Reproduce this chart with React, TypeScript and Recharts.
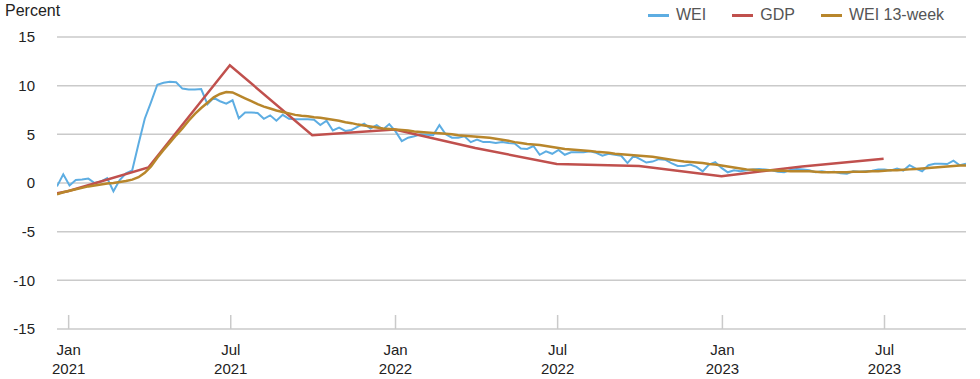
import React from "react";
import { LineChart, Line, XAxis, YAxis, CartesianGrid } from "recharts";

const DAY = 86400000;
const weekStart = Date.UTC(2020, 11, 19);

// weekly WEI readings, Dec 19 2020 -> Sep 30 2023
const weiValues = [
  -0.35, 0.9, -0.25, 0.3, 0.35, 0.45, 0.0, 0.15, 0.5, -0.85,
  0.3, 1.0, 1.3, 4.0, 6.6, 8.3, 10.1, 10.3, 10.4, 10.35,
  9.7, 9.6, 9.6, 9.65, 8.1, 8.75, 8.4, 8.15, 8.5, 6.65,
  7.25, 7.25, 7.2, 6.6, 6.95, 6.4, 7.0, 6.6, 6.55, 6.55,
  6.55, 6.5, 5.95, 6.4, 5.4, 5.7, 5.35, 5.45, 5.8, 6.1,
  5.6, 5.95, 5.5, 6.05, 5.3, 4.3, 4.65, 4.8, 5.0, 4.95,
  4.9, 5.95, 5.0, 4.65, 4.65, 4.8, 4.2, 4.45, 4.2, 4.2,
  4.1, 4.2, 4.1, 4.05, 3.55, 3.5, 3.8, 2.9, 3.25, 3.0,
  3.4, 2.9, 3.15, 3.15, 3.15, 3.25, 3.1, 2.8, 3.0, 2.9,
  2.8, 2.05, 2.8, 2.45, 2.1, 2.2, 2.45, 2.4, 2.05, 1.75,
  1.75, 1.9, 1.65, 1.2, 1.9, 2.15, 1.55, 1.1, 1.3, 1.2,
  1.3, 1.38, 1.45, 1.38, 1.3, 1.15, 1.1, 1.35, 1.45, 1.4,
  1.3, 1.1, 1.2, 1.1, 1.15, 1.0, 0.95, 1.2, 1.15, 1.2,
  1.25, 1.38, 1.38, 1.28, 1.48, 1.28, 1.83, 1.48, 1.2, 1.83,
  1.97, 1.97, 1.95, 2.3, 1.83, 1.97,
];

const wei13Values = [
  -1.15, -0.95, -0.8, -0.65, -0.5, -0.35, -0.25, -0.15, -0.05, 0.0,
  0.1, 0.2, 0.35, 0.6, 1.05, 1.7, 2.6, 3.4, 4.15, 4.9,
  5.6, 6.4, 7.1, 7.7, 8.25, 8.8, 9.15, 9.35, 9.3, 9.0,
  8.7, 8.4, 8.1, 7.85, 7.65, 7.45, 7.3, 7.15, 7.0, 6.9,
  6.85, 6.75, 6.7, 6.6, 6.5, 6.4, 6.25, 6.15, 6.0, 5.9,
  5.8, 5.7, 5.6, 5.55, 5.5, 5.45, 5.4, 5.3, 5.25, 5.2,
  5.15, 5.1, 5.05, 5.0, 4.9, 4.85, 4.8, 4.75, 4.7, 4.65,
  4.55, 4.45, 4.35, 4.2, 4.1, 4.0, 3.95, 3.9, 3.8, 3.7,
  3.6, 3.5, 3.45, 3.4, 3.35, 3.3, 3.2, 3.15, 3.1, 3.0,
  2.95, 2.9, 2.85, 2.8, 2.75, 2.7, 2.6, 2.5, 2.4, 2.3,
  2.2, 2.15, 2.1, 2.05, 1.95, 1.9, 1.8, 1.7, 1.6, 1.5,
  1.4, 1.35, 1.3, 1.3, 1.3, 1.25, 1.25, 1.2, 1.2, 1.2,
  1.2, 1.15, 1.1, 1.1, 1.1, 1.1, 1.1, 1.15, 1.15, 1.15,
  1.2, 1.2, 1.25, 1.3, 1.3, 1.35, 1.4, 1.45, 1.5, 1.55,
  1.6, 1.65, 1.7, 1.75, 1.8, 1.8,
];

// quarterly GDP, year over year
const gdpDates = [
  "2020-09-30", "2020-12-31", "2021-03-31", "2021-06-30", "2021-09-30", "2021-12-31",
  "2022-03-31", "2022-06-30", "2022-09-30", "2022-12-31", "2023-03-31", "2023-06-30",
];
const gdpValues = [-2.5, -0.85, 1.6, 12.1, 4.9, 5.5, 3.6, 1.95, 1.75, 0.7, 1.7, 2.5];

const xTickDates = ["2021-01-01", "2021-07-01", "2022-01-01", "2022-07-01", "2023-01-01", "2023-07-01"];
const yTicks = [-15, -10, -5, 0, 5, 10, 15];

const weiRows = weiValues.map((v, i) => ({
  t: weekStart + i * 7 * DAY,
  wei: v,
  wei13: wei13Values[i],
}));
const gdpRows = gdpDates.map((d, i) => ({ t: Date.parse(d), gdp: gdpValues[i] }));
const xTicks = xTickDates.map((d) => Date.parse(d));

const FONT = "Arial, 'Liberation Sans', sans-serif";
const BLUE = "#5dade2";
const RED = "#c0504d";
const GOLD = "#b8862b";
const GRID = "#cacaca";

const DateTick = (props: any) => {
  const { x, y, payload } = props;
  const d = new Date(payload.value);
  const mon = d.getUTCMonth() === 0 ? "Jan" : "Jul";
  return (
    <g>
      <line x1={x} x2={x} y1={y - 14} y2={y} stroke={GRID} strokeWidth={1.5} />
      <text x={x} y={y + 26} textAnchor="middle" fill="#222" fontSize={15} fontFamily={FONT}>
        {mon}
      </text>
      <text x={x} y={y + 45} textAnchor="middle" fill="#222" fontSize={15} fontFamily={FONT}>
        {d.getUTCFullYear()}
      </text>
    </g>
  );
};

const legendItems = [
  { name: "WEI", color: BLUE },
  { name: "GDP", color: RED },
  { name: "WEI 13-week", color: GOLD },
];

export default function App() {
  return (
    <div style={{ position: "absolute", left: 0, top: 0, width: 980, height: 379, background: "#fff" }}>
      <div
        style={{
          position: "absolute", left: 5, top: 2, fontFamily: FONT, fontSize: 16, color: "#222",
        }}
      >
        Percent
      </div>
      <div
        style={{
          position: "absolute", left: 648, top: 6, display: "flex", alignItems: "center",
          fontFamily: FONT, fontSize: 16, color: "#555",
        }}
      >
        {legendItems.map((it) => (
          <div key={it.name} style={{ display: "flex", alignItems: "center", marginRight: 26 }}>
            <span style={{ display: "inline-block", width: 21, height: 3, background: it.color, marginRight: 7 }} />
            <span>{it.name}</span>
          </div>
        ))}
      </div>
      <LineChart width={980} height={379} margin={{ top: 37, right: 14, bottom: 0, left: 0 }}>
        <CartesianGrid vertical={false} stroke={GRID} strokeWidth={1.5} />
        <XAxis
          type="number"
          dataKey="t"
          domain={[weekStart, Date.parse("2023-09-30")]}
          allowDataOverflow
          ticks={xTicks}
          tick={<DateTick />}
          tickLine={false}
          axisLine={false}
          tickSize={0}
          tickMargin={0}
          height={50}
        />
        <YAxis
          type="number"
          domain={[-15, 15]}
          ticks={yTicks}
          width={57}
          tickLine={false}
          axisLine={false}
          tickSize={0}
          tickMargin={22}
          tick={{ fill: "#222", fontSize: 15, fontFamily: FONT }}
        />
        <Line data={weiRows} dataKey="wei" stroke={BLUE} strokeWidth={2} dot={false} isAnimationActive={false} />
        <Line data={gdpRows} dataKey="gdp" stroke={RED} strokeWidth={2.5} dot={false} isAnimationActive={false} />
        <Line data={weiRows} dataKey="wei13" stroke={GOLD} strokeWidth={2.5} dot={false} isAnimationActive={false} />
      </LineChart>
    </div>
  );
}
